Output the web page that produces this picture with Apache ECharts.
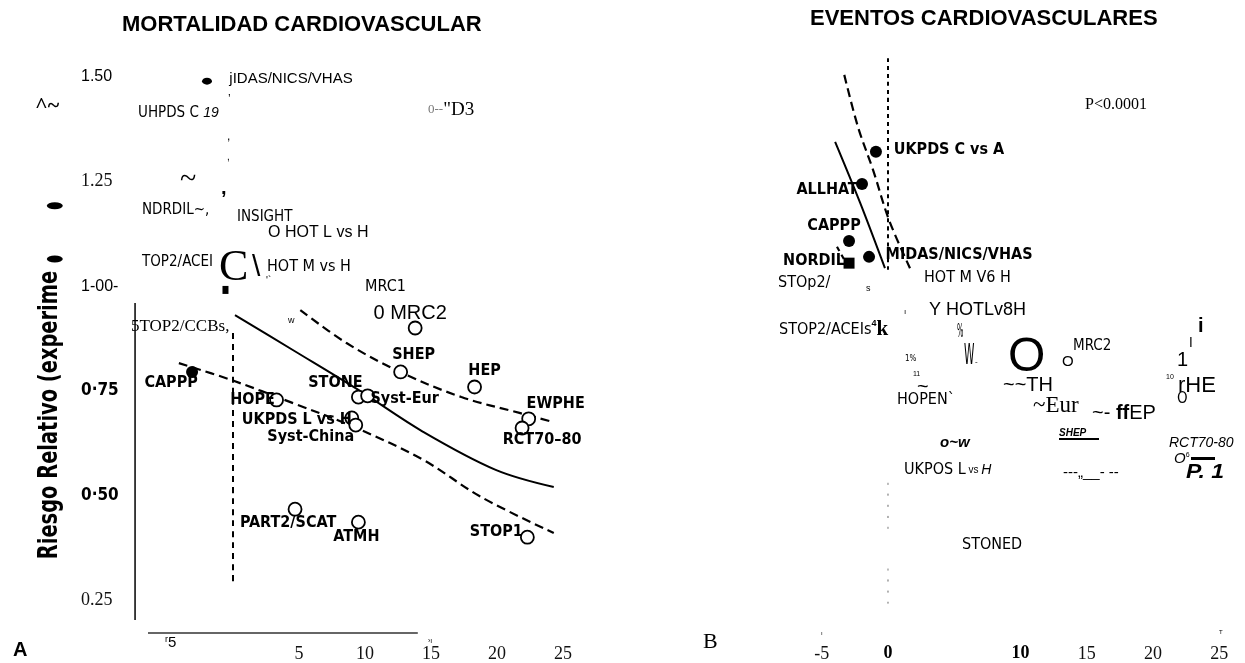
<!DOCTYPE html>
<html>
<head>
<meta charset="utf-8">
<script src="https://cdn.jsdelivr.net/npm/echarts@6/dist/echarts.min.js"></script>
<style>html,body{margin:0;padding:0;background:#fff}#c{width:1245px;height:663px}</style>
</head>
<body>
<div id="c"></div>
<script>
// ---------- Panel A data (Mortalidad cardiovascular) ----------
const aOpenNames = ['HOPE','UKPDS L vs H','Syst-China','STONE','Syst-Eur','SHEP','0 MRC2','HEP','EWPHE','RCT70–80','PART2/SCAT','ATMH','STOP1'];
const aOpenX = [3.3, 9.0, 9.3, 9.5, 10.2, 12.7, 13.8, 18.3, 22.4, 21.9, 4.7, 9.5, 22.3];
const aOpenY = [0.728, 0.685, 0.668, 0.735, 0.738, 0.795, 0.90, 0.759, 0.683, 0.661, 0.467, 0.436, 0.40];
const aFilledNames = ['CAPPP', 'jIDAS/NICS/VHAS'];
const aFilledX = [-3.1, -1.97];
const aFilledY = [0.795, 1.49];
const aSquareX = [-0.57];
const aSquareY = [0.991];
const aMarginX = [-13.5, -13.5];
const aMarginY = [1.192, 1.065];
const aSolid = [[0.15,0.931],[4.5,0.848],[9.5,0.752],[14.4,0.652],[19.9,0.561],[24.3,0.52]];
const aUpper = [[5.1,0.943],[8.6,0.864],[12.65,0.795],[17.3,0.735],[21.7,0.697],[24.3,0.675]];
const aLower = [[-4.1,0.816],[-0.15,0.776],[4.5,0.721],[9.2,0.663],[14.4,0.585],[18.8,0.496],[24.3,0.41]];
const aZero = [[0,0.888],[0,0.286]];
const aYAxisLine = [[-7.42,0.202],[-7.42,0.96]];
const aXAxisLine = [[-6.44,0.171],[14.0,0.171]];
const aXTicks = [5,10,15,20,25];
const aYTicks = [0.25,0.5,0.75,1,1.25,1.5];
const aYTickLabels = ['0.25','0·50','0·75','1-00-','1.25','1.50'];

// ---------- Panel B data (Eventos cardiovasculares) ----------
const bFilledNames = ['UKPDS C vs A','ALLHAT','CAPPP','MIDAS/NICS/VHAS'];
const bFilledX = [-0.91, -1.96, -2.94, -1.43];
const bFilledY = [1.321, 1.244, 1.108, 1.070];
const bSquareNames = ['NORDIL'];
const bSquareX = [-2.94];
const bSquareY = [1.055];
const bSolid = [[-3.99,1.345],[-2.1,1.199],[-0.23,1.043]];
const bDash = [[-3.3,1.505],[-2.26,1.38],[-1.13,1.278],[0.08,1.158],[1.66,1.043]];
const bShort = [[-3.85,1.094],[-3.3,1.063]];
const bZero = [[0,1.545],[0,1.039]];
const bZeroLow1 = [[0,0.53],[0,0.42]];
const bZeroLow2 = [[0,0.325],[0,0.225]];
const bXTicks = [-5,0,10,15,20,25];

// ---------- layout (label offsets, styles) ----------
const aOpenOffsets = [[-24,0],[-55,2],[-45,12],[-23,-14],[37,3],[13,-17],[-5,-15],[10,-16],[27,-15],[20,12],[-7,14],[-2,15],[-31,-5]];
const aFilledOffsets = [[-21,11],[84,-2]];
const bFilledOffsets = [[73,-2],[-35,6],[-15,-15],[90,-2]];
const bSquareOffsets = [[-35,-2]];

const NARROW = '"Liberation Sans Narrow","DejaVu Sans Condensed","Liberation Sans",sans-serif';
const SANS = '"Liberation Sans",Arial,sans-serif';
const SERIF = '"Liberation Serif","Times New Roman",serif';

const boldLbl = {show:true, position:'inside', color:'#000', opacity:1, fontFamily:NARROW, fontWeight:'bold', fontSize:16,
  textBorderWidth:0, textBorderColor:'transparent', textShadowBlur:0};

function pts(xs, ys){ return xs.map((x,i)=>[x, ys[i]]); }
function labelled(names, xs, ys, offs, extra){
  return names.map((n,i)=>({name:n, value:[xs[i], ys[i]], label:Object.assign({offset:offs[i], formatter:n}, (extra && extra[i])||{})}));
}
const lineBase = {type:'line', symbol:'none', silent:true, animation:false, z:2};
function line(data, xi, width, dash, color){
  return Object.assign({}, lineBase, {data, xAxisIndex:xi, yAxisIndex:xi, smooth:0.35,
    lineStyle:{color:color||'#000', width, type: dash || 'solid', opacity:1}});
}

const aOpenExtra = aOpenNames.map(n => n === '0 MRC2' ? {fontFamily:SANS, fontWeight:'normal', fontSize:20} : null);
const aFilledExtra = [null, {fontFamily:SANS, fontWeight:'normal', fontSize:15}];

function txt(x, y, text, font, opts){
  const o = opts || {};
  return {type:'text', x, y, rotation:o.rot||0, scaleX:o.sx||1, scaleY:o.sy||1, z:10, silent:true,
    style:Object.assign({text, font, fill:o.fill||'#000', align:o.align||'left', textAlign:o.align||'left',
      verticalAlign:'middle', textVerticalAlign:'middle'}, o.rich?{rich:o.rich}:{})};
}

const graphics = [
  // panel A
  txt(13, 650, 'A', 'bold 20px '+SANS),
  txt(50, 415, 'Riesgo Relativo (experime', 'bold 27px '+NARROW, {align:'center', rot:Math.PI/2, sx:0.8}),
  txt(35, 106, '^~', 'bold 22px '+SERIF),
  txt(138, 113, '{a|UHPDS C }{b|19}', '15px '+NARROW, {rich:{a:{fontFamily:NARROW,fontSize:15,fill:'#000'}, b:{fontFamily:SANS,fontStyle:'italic',fontSize:14,fill:'#000'}}}),
  txt(228, 100, '’', '12px '+SANS),
  txt(227, 137, ',', '12px '+SANS),
  txt(227, 157, ',', '10px '+SANS),
  txt(221, 188, ',', 'bold 20px '+SANS),
  txt(428, 110, '{a|0--}{b|"D3}', '18px '+SERIF, {rich:{a:{fontFamily:SERIF,fontSize:13,fill:'#777'}, b:{fontFamily:SERIF,fontSize:19,fill:'#000'}}}),
  txt(180, 180, '~', '30px '+SERIF),
  txt(142, 210, 'NDRDIL~,', '15px '+NARROW),
  txt(237, 217, 'INSIGHT', '15px '+NARROW),
  txt(268, 233, 'O HOT L vs H', '16px '+SANS),
  txt(142, 262, 'TOP2/ACEI', '15px '+NARROW),
  txt(219, 268, 'C', '44px '+SERIF),
  txt(252, 268, '\\', '30px '+SANS),
  txt(267, 267, 'HOT M vs H', '16px '+NARROW),
  txt(266, 281, "'`", '10px '+SANS),
  txt(365, 287, 'MRC1', '16px '+NARROW),
  txt(288, 321, 'w', '9px '+SANS),
  txt(131, 327, '5TOP2/CCBs,', '17px '+SERIF),
  txt(165, 643, '{r|r}{f|5}', '14px '+SANS, {rich:{r:{fontFamily:SANS,fontSize:9,fill:'#000',verticalAlign:'top'}, f:{fontFamily:SANS,fontSize:15,fill:'#000'}}}),
  txt(428, 641, '›ı', '7px '+SANS),
  // panel B
  txt(810, 19, 'EVENTOS CARDIOVASCULARES', 'bold 22px '+SANS),
  txt(1085, 105, 'P<0.0001', '16px '+SERIF),
  txt(778, 283, 'STOp2/', '16px '+NARROW),
  txt(866, 289, 's', '9px '+SANS),
  txt(924, 278, 'HOT M V6 H', '16px '+NARROW),
  txt(904, 312, 'ı', '8px '+SANS),
  txt(929, 310, 'Y HOTLv8H', '18px '+SANS),
  txt(779, 330, '{a|STOP2/ACEIs}{b|4}{c|k}', '16px '+NARROW, {rich:{a:{fontFamily:NARROW,fontSize:16,fill:'#000'}, b:{fontFamily:SANS,fontSize:9,fontWeight:'bold',fill:'#000',verticalAlign:'top'}, c:{fontFamily:SERIF,fontSize:21,fontWeight:'bold',fill:'#000'}}}),
  txt(957, 332, '%', '15px '+NARROW, {sx:0.5, sy:1.3}),
  txt(964, 357, 'W', '26px '+NARROW, {sx:0.45, sy:1.1}),
  txt(975, 362, '-', '8px '+SANS),
  txt(905, 359, '1%', '8px '+NARROW),
  txt(913, 374, '11', '7px '+SANS),
  txt(917, 387, '~', '20px '+SANS),
  txt(897, 400, 'HOPEN`', '16px '+NARROW),
  txt(1008, 358, 'O', '48px '+SANS),
  txt(1062, 362, 'O', '15px '+SANS),
  txt(1073, 346, 'MRC2', '15px '+NARROW),
  txt(1003, 385, '~~TH', '20px '+SANS),
  txt(1033, 406, '~Eur', '23px '+SERIF),
  txt(1092, 413, '{a|~- }{b|ff}{a|EP}', '20px '+SANS, {rich:{a:{fontFamily:SANS,fontSize:20,fill:'#000'}, b:{fontFamily:SANS,fontSize:20,fontWeight:'bold',fill:'#000'}}}),
  txt(1198, 326, 'i', 'bold 20px '+SANS),
  txt(1189, 343, 'I', '14px '+NARROW),
  txt(1177, 360, '1', '20px '+SANS),
  txt(1166, 377, '10', '7px '+SANS),
  txt(1178, 386, 'rHE', '22px '+SANS),
  txt(1177, 399, 'O', '15px '+NARROW),
  txt(1059, 433, 'SHEP', 'bold italic 10px '+SANS),
  {type:'rect', shape:{x:1059, y:438, width:40, height:2}, style:{fill:'#000'}, silent:true, z:10},
  txt(940, 443, 'o~w', 'bold italic 15px '+SANS),
  txt(1169, 443, 'RCT70-80', 'italic 14px '+SANS),
  txt(1174, 459, '{o|O}{s|6}', 'italic 15px '+SANS, {rich:{o:{fontFamily:SANS,fontStyle:'italic',fontSize:15,fill:'#000'}, s:{fontFamily:SANS,fontSize:7,fill:'#000',verticalAlign:'top'}}}),
  {type:'rect', shape:{x:1191, y:457, width:24, height:3}, style:{fill:'#000'}, silent:true, z:10},
  txt(1063, 473, '---„__- --', '15px '+SANS),
  txt(1186, 472, 'P. 1', 'bold italic 20px '+SANS, {sx:1.15}),
  txt(904, 470, '{a|UKPOS L}{b| vs }{c|H}', '16px '+NARROW, {rich:{a:{fontFamily:NARROW,fontSize:16,fill:'#000'}, b:{fontFamily:SANS,fontSize:10,fill:'#000'}, c:{fontFamily:SANS,fontStyle:'italic',fontSize:14,fill:'#000'}}}),
  txt(962, 545, 'STONED', '16px '+NARROW),
  txt(703, 642, 'B', '22px '+SERIF),
  txt(821, 633, 'ı', '6px '+SANS),
  txt(1219, 632, 'T', '6px '+SANS)
];

const filledStyle = {color:'#000', opacity:1};
const option = {
  animation:false,
  backgroundColor:'#fff',
  title:[{text:'MORTALIDAD CARDIOVASCULAR', left:117, top:9, textStyle:{fontFamily:SANS, fontWeight:'bold', fontSize:22, color:'#000'}}],
  grid:[
    {left:35, top:14.2, width:541.2, height:627.6},
    {left:755.5, top:14.2, width:483.6, height:627.6}
  ],
  xAxis:[
    {type:'value', gridIndex:0, min:-15, max:26, splitLine:{show:false}, axisLine:{show:false}, axisTick:{show:false},
     axisLabel:{customValues:aXTicks, margin:3, fontFamily:SERIF, fontSize:18, color:'#111'}},
    {type:'value', gridIndex:1, min:-10, max:26.5, splitLine:{show:false}, axisLine:{show:false}, axisTick:{show:false},
     axisLabel:{customValues:bXTicks, margin:3, fontFamily:SERIF, fontSize:18, color:'#111',
       formatter:v => (v===0||v===10) ? '{b|'+v+'}' : String(v),
       rich:{b:{fontFamily:SERIF, fontSize:18, fontWeight:'bold', color:'#000'}}}}
  ],
  yAxis:[
    {type:'value', gridIndex:0, min:0.15, max:1.65, splitLine:{show:false}, axisLine:{show:false}, axisTick:{show:false},
     axisLabel:{customValues:aYTicks, inside:true, margin:46,
       formatter:v => {
         const i = aYTicks.findIndex(t => Math.abs(t-v)<1e-6);
         const s = aYTickLabels[i];
         const cls = (i===0||i===4) ? 'serif' : (i===1||i===2) ? 'bold' : 'sans';
         return '{'+cls+'|'+s+'}';
       },
       rich:{serif:{fontFamily:SERIF, fontSize:18, color:'#111'},
             bold:{fontFamily:NARROW, fontSize:17, fontWeight:'bold', color:'#000'},
             sans:{fontFamily:SANS, fontSize:16, color:'#000'}}}},
    {type:'value', gridIndex:1, min:0.15, max:1.65, show:false}
  ],
  series:[
    line(aSolid, 0, 2),
    line(aUpper, 0, 2.2, [9,5]),
    line(aLower, 0, 2.2, [9,5]),
    line(aZero, 0, 2, [6,5]),
    line(aYAxisLine, 0, 1.5),
    line(aXAxisLine, 0, 1.5, 'solid', '#333'),
    {type:'scatter', xAxisIndex:0, yAxisIndex:0, symbol:'circle', symbolSize:[16,7], data:pts(aMarginX, aMarginY), itemStyle:filledStyle, z:3, silent:true},
    {type:'scatter', xAxisIndex:0, yAxisIndex:0, symbol:'rect', symbolSize:[6,8], data:pts(aSquareX, aSquareY), itemStyle:filledStyle, z:3, silent:true},
    {type:'scatter', xAxisIndex:0, yAxisIndex:0, symbol:'circle', symbolSize:13, z:4, silent:true,
     itemStyle:{color:'#fff', borderColor:'#000', borderWidth:1.8, opacity:1},
     label:boldLbl, data:labelled(aOpenNames, aOpenX, aOpenY, aOpenOffsets, aOpenExtra)},
    {type:'scatter', xAxisIndex:0, yAxisIndex:0, symbol:'circle', z:4, silent:true,
     symbolSize:(v, p) => p.dataIndex===0 ? 12 : [10,7],
     itemStyle:filledStyle,
     label:boldLbl, data:labelled(aFilledNames, aFilledX, aFilledY, aFilledOffsets, aFilledExtra)},
    line(bSolid, 1, 2),
    line(bDash, 1, 2.2, [9,5]),
    line(bShort, 1, 2.2, [5,4]),
    line(bZero, 1, 2, [4,4]),
    line(bZeroLow1, 1, 1, [2,9], '#666'),
    line(bZeroLow2, 1, 1, [2,9], '#666'),
    {type:'scatter', xAxisIndex:1, yAxisIndex:1, symbol:'circle', symbolSize:12, z:4, silent:true,
     itemStyle:filledStyle, label:boldLbl, data:labelled(bFilledNames, bFilledX, bFilledY, bFilledOffsets)},
    {type:'scatter', xAxisIndex:1, yAxisIndex:1, symbol:'rect', symbolSize:11, z:4, silent:true,
     itemStyle:filledStyle, label:boldLbl, data:labelled(bSquareNames, bSquareX, bSquareY, bSquareOffsets)}
  ],
  graphic:graphics
};

const chart = echarts.init(document.getElementById('c'), null, {renderer:'canvas'});
chart.setOption(option);
</script>
</body>
</html>
